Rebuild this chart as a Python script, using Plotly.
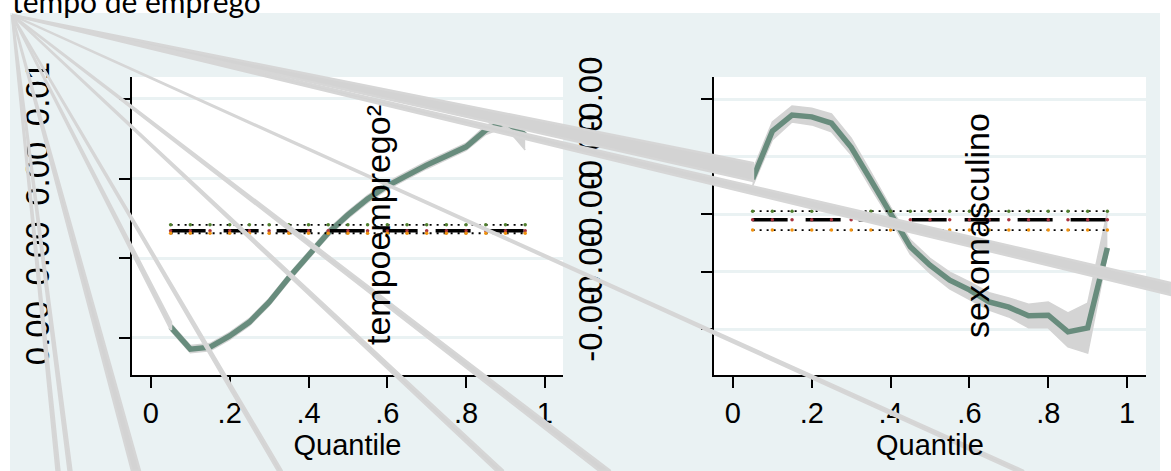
import plotly.graph_objects as go

# ---------------- data ----------------
quantiles = [0.05, 0.10, 0.15, 0.20, 0.25, 0.30, 0.35, 0.40, 0.45, 0.50,
             0.55, 0.60, 0.65, 0.70, 0.75, 0.80, 0.85, 0.90, 0.95]

tempo2_coef = [0.00228, 0.00172, 0.00177, 0.00205, 0.00240, 0.00290, 0.00351, 0.00408, 0.00464, 0.00509,
               0.00549, 0.00582, 0.00609, 0.00634, 0.00657, 0.00680, 0.00722, 0.00742, 0.00710]
tempo2_hi = [0.00237, 0.00181, 0.00186, 0.00214, 0.00249, 0.00299, 0.00360, 0.00417, 0.00473, 0.00518,
             0.00558, 0.00591, 0.00618, 0.00643, 0.00666, 0.00689, 0.00733, 0.00755, 0.00727]
tempo2_lo = [0.00219, 0.00163, 0.00168, 0.00196, 0.00231, 0.00281, 0.00342, 0.00399, 0.00455, 0.00500,
             0.00540, 0.00573, 0.00600, 0.00625, 0.00648, 0.00671, 0.00711, 0.00730, 0.00672]
tempo2_ols, tempo2_ols_lo, tempo2_ols_hi = 0.00469, 0.00463, 0.00484

sexo_coef = [-0.00239, -0.00156, -0.00128, -0.00131, -0.00142, -0.00184, -0.00241, -0.00298, -0.00357, -0.00389,
             -0.00415, -0.00432, -0.00453, -0.00462, -0.00477, -0.00476, -0.00505, -0.00498, -0.00359]
sexo_hi = [-0.00224, -0.00140, -0.00112, -0.00116, -0.00126, -0.00168, -0.00227, -0.00288, -0.00345, -0.00377,
           -0.00401, -0.00418, -0.00437, -0.00446, -0.00457, -0.00453, -0.00472, -0.00455, -0.00297]
sexo_lo = [-0.00251, -0.00171, -0.00140, -0.00145, -0.00157, -0.00197, -0.00255, -0.00310, -0.00370, -0.00403,
           -0.00430, -0.00448, -0.00467, -0.00479, -0.00498, -0.00498, -0.00531, -0.00542, -0.00370]
sexo_ols, sexo_ols_lo, sexo_ols_hi = -0.00310, -0.00328, -0.00295

x_tickvals = [0, 0.2, 0.4, 0.6, 0.8, 1.0]
x_ticktext = ["0", ".2", ".4", ".6", ".8", "1"]
tempo2_tickvals = [0.002, 0.004, 0.006, 0.008]
tempo2_ticktext = ["0.00", "0.00", "0.00", "0.01"]
sexo_tickvals = [-0.005, -0.004, -0.003, -0.002, -0.001]
sexo_ticktext = ["-0.00", "-0.00", "-0.00", "-0.00", "-0.00"]

panel_labels = ["tempoemprego²", "sexomasculino"]
x_title = "Quantile"
page_title = "tempo de emprego"

# stray polygon artefacts (page pixel coordinates)
ray_origin_x, ray_origin_y = 12, 15
ray_end_x = [1171, 753, 1020, 605, 500, 280, 171, 136, 70, 58]
ray_end_y = [289, 172, 471, 471, 471, 471, 326, 471, 471, 471]
ray_end_w = [12, 18, 8, 11, 7, 4, 8, 8, 3, 3]

# ---------------- figure ----------------
W, H = 1171, 471
GREEN = "#688c7d"
BAND = "#d4d4d4"
GRID = "#eaf2f3"

fig = go.Figure()


def add_panel(xa, ya, coef, lo, hi, ols, ols_lo, ols_hi):
    fig.add_trace(go.Scatter(x=quantiles, y=lo, mode="lines", line=dict(color=BAND, width=1.5),
                             xaxis=xa, yaxis=ya, showlegend=False, hoverinfo="skip"))
    fig.add_trace(go.Scatter(x=quantiles, y=hi, mode="lines", line=dict(color=BAND, width=1.5),
                             fill="tonexty", fillcolor=BAND,
                             xaxis=xa, yaxis=ya, showlegend=False, hoverinfo="skip"))
    fig.add_trace(go.Scatter(x=quantiles, y=coef, mode="lines", line=dict(color=GREEN, width=5.5),
                             xaxis=xa, yaxis=ya, showlegend=False))
    q0, q1 = quantiles[0], quantiles[-1]
    for val, dash, width in [(ols_hi, "2px,5px", 1.8), (ols_lo, "2px,5px", 1.8), (ols, "35px,18px", 3.5)]:
        fig.add_trace(go.Scatter(x=[q0, q1], y=[val, val], mode="lines",
                                 line=dict(color="black", width=width, dash=dash),
                                 xaxis=xa, yaxis=ya, showlegend=False, hoverinfo="skip"))
    for val, col in [(ols_hi, "#4e7d2c"), (ols, "#a8323e"), (ols_lo, "#f0910e")]:
        fig.add_trace(go.Scatter(x=quantiles, y=[val] * len(quantiles), mode="markers",
                                 marker=dict(color=col, size=3.5),
                                 xaxis=xa, yaxis=ya, showlegend=False, hoverinfo="skip"))


add_panel("x", "y", tempo2_coef, tempo2_lo, tempo2_hi, tempo2_ols, tempo2_ols_lo, tempo2_ols_hi)
add_panel("x2", "y2", sexo_coef, sexo_lo, sexo_hi, sexo_ols, sexo_ols_lo, sexo_ols_hi)

# stray wedges on a full-page overlay axis
for ex, ey, ew in zip(ray_end_x, ray_end_y, ray_end_w):
    if ey >= H:
        px = [ray_origin_x, ex - ew / 2, ex + ew / 2, ray_origin_x]
        py = [ray_origin_y, ey, ey, ray_origin_y]
    else:
        px = [ray_origin_x, ex, ex, ray_origin_x]
        py = [ray_origin_y, ey - ew / 2, ey + ew / 2, ray_origin_y]
    fig.add_trace(go.Scatter(x=px, y=py, mode="lines", fill="toself", fillcolor="#d3d3d3",
                             line=dict(color="#d6d6d6", width=2.4),
                             xaxis="x3", yaxis="y3", showlegend=False, hoverinfo="skip"))

AX_FONT = dict(family="Liberation Sans, Arial, sans-serif", size=29, color="black")
ROT_FONT = dict(family="Liberation Sans, Arial, sans-serif", size=33, color="black")

ydom = [(H - 375) / H, (H - 77) / H]

xcommon = dict(tickvals=x_tickvals, ticktext=x_ticktext, showgrid=False, zeroline=False,
               showline=True, linecolor="black", linewidth=1.5, ticks="outside", ticklen=11,
               tickwidth=1.5, tickcolor="black", tickfont=AX_FONT, automargin=False,
               title=dict(text=x_title, font=AX_FONT, standoff=2))
ycommon = dict(showgrid=True, gridcolor=GRID, gridwidth=2.5, zeroline=False, automargin=False,
               showline=True, linecolor="black", linewidth=1.5, ticks="outside", ticklen=11,
               tickwidth=1.5, tickcolor="black", tickfont=ROT_FONT, tickangle=-90)

fig.update_layout(
    width=W, height=H, margin=dict(l=0, r=0, t=0, b=0, autoexpand=False),
    paper_bgcolor="white", plot_bgcolor="rgba(0,0,0,0)",
    showlegend=False,
    title=dict(text=page_title, x=12 / W, xanchor="left", xref="paper",
               y=(H - 13) / H, yanchor="bottom", yref="paper", automargin=False,
               font=dict(family="Lato, Open Sans, sans-serif", size=30, color="black")),
    xaxis=dict(domain=[132 / W, 563 / W], range=[-0.048, 1.046], anchor="y", **xcommon),
    yaxis=dict(domain=ydom, range=[0.001071, 0.008552], anchor="x",
               tickvals=tempo2_tickvals, ticktext=tempo2_ticktext, ticklabelstandoff=57, **ycommon),
    xaxis2=dict(domain=[714 / W, 1146 / W], range=[-0.048, 1.048], anchor="y2", **xcommon),
    yaxis2=dict(domain=ydom, range=[-0.0058, -0.000617], anchor="x2",
                tickvals=sexo_tickvals, ticktext=sexo_ticktext, ticklabelstandoff=86, **ycommon),
    xaxis3=dict(domain=[0, 1], range=[0, W], visible=False, anchor="y3", fixedrange=True),
    yaxis3=dict(domain=[0, 1], range=[H, 0], visible=False, anchor="x3", fixedrange=True),
    shapes=[
        dict(type="rect", xref="paper", yref="paper", x0=10 / W, x1=1160 / W, y0=0, y1=(H - 13) / H,
             fillcolor=GRID, line=dict(width=0), layer="below"),
        dict(type="rect", xref="x domain", yref="y domain", x0=0, x1=1, y0=0, y1=1,
             fillcolor="white", line=dict(width=0), layer="below"),
        dict(type="rect", xref="x2 domain", yref="y2 domain", x0=0, x1=1, y0=0, y1=1,
             fillcolor="white", line=dict(width=0), layer="below"),
    ],
    annotations=[
        dict(text=panel_labels[0], textangle=-90, xref="paper", yref="paper",
             x=378 / W, y=(H - 225) / H, showarrow=False, xanchor="center", yanchor="middle",
             font=dict(family="Liberation Sans, Arial, sans-serif", size=34, color="black")),
        dict(text=panel_labels[1], textangle=-90, xref="paper", yref="paper",
             x=977 / W, y=(H - 226) / H, showarrow=False, xanchor="center", yanchor="middle",
             font=dict(family="Liberation Sans, Arial, sans-serif", size=34, color="black")),
    ],
)

fig.write_html("out.html", config={"displayModeBar": False},
               post_script="document.body.style.margin='0px';")
